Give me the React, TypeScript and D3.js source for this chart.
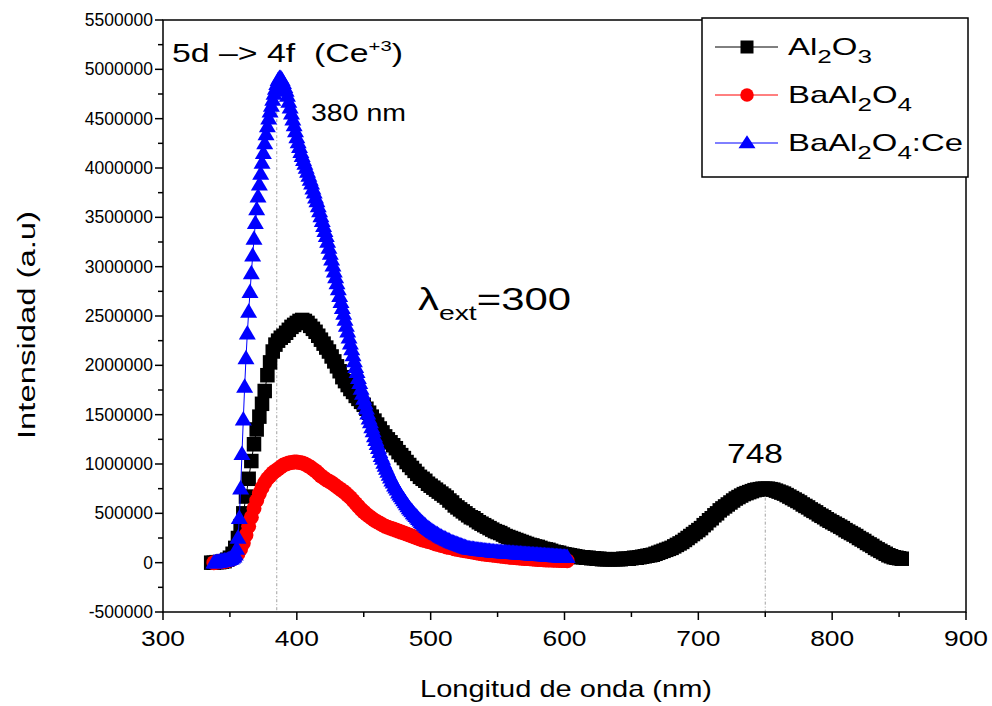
import React from "react";
import * as d3 from "d3";

// ---- data (intensity in units of 10^4 counts) ----
const UNIT = 10000;
const al2o3Start = 336, al2o3Step = 2;
const al2o3Values = [
  0, 0, 0.5, 0.5, 1, 1.5, 3, 5, 9, 15,
  25, 37, 50, 67, 85, 103, 120, 135, 148, 161,
  174, 190, 203, 214, 221, 225, 228, 230, 233, 236,
  239, 241, 243, 245, 246, 245, 243, 240, 237, 234,
  230, 226, 222, 218, 214, 209, 204, 199, 194, 188,
  184, 180, 176, 173, 169, 166, 163, 160, 156, 152,
  148, 144, 140, 136, 132, 128, 125, 122, 119, 116,
  112, 109, 106, 102, 99, 96, 93, 90, 87, 85,
  83, 80, 78, 76, 74, 72, 70, 68, 66, 63,
  61, 58, 56, 54, 52, 50, 48, 46, 45, 43,
  41, 39.5, 38, 36.5, 35, 33.5, 32, 31, 30, 28.5,
  27, 26, 25, 24, 23, 22, 21, 20, 19, 18,
  17.5, 16.5, 16, 15, 14, 13.5, 13, 12, 11, 10.5,
  10, 9, 8.5, 8, 7.5, 7, 6.5, 6, 5.5, 5.5,
  5, 5, 4.5, 4.5, 4, 4, 3.5, 3.5, 3.5, 3.5,
  3.5, 3.5, 3.5, 3.5, 4, 4, 4, 4.5, 5, 5,
  5.5, 6, 6.5, 7, 7.5, 8, 9, 10, 11, 12,
  13, 14, 15, 16.5, 18, 19.5, 21, 23, 25, 27,
  29, 31, 33, 35, 38, 40, 43, 45, 48, 50,
  53, 55, 57, 59, 61, 63, 65, 66.5, 68, 69.5,
  70.5, 71.5, 72.5, 73.5, 74, 74.5, 75, 75, 75, 74.5,
  74, 73, 72, 71, 70, 68.5, 67, 65.5, 64, 62.5,
  61, 59, 57.5, 56, 54, 52.5, 51, 49, 47.5, 46,
  44, 42.5, 41, 39.5, 38, 36.5, 35, 33, 31.5, 30,
  28.5, 27, 25, 23.5, 22, 20, 18.5, 17, 15, 13.5,
  12, 10.5, 9, 7.5, 6.5, 5.5, 5, 4.5, 4,
];

const baal2o4Start = 338, baal2o4Step = 2;
const baal2o4Values = [
  0, 0.5, 1, 1, 1.5, 2, 3, 4, 6, 9,
  14, 20, 28, 37, 46, 55, 63, 70, 76, 81,
  85, 88, 91, 93, 95, 97, 99, 100, 101, 101.5,
  102, 102, 101.5, 101, 100, 98.5, 97, 95, 93, 90.5,
  88, 86, 84, 82.5, 81, 79, 77, 75, 73, 71,
  68.5, 66, 63, 60, 57, 54, 51.5, 49, 47, 45,
  43, 41.5, 40, 38.5, 37, 36, 35, 34, 33, 32,
  31, 30, 29, 28, 27, 26, 25, 24, 23, 22.5,
  21.5, 21, 20, 19, 18.5, 17.5, 17, 16, 15.5, 15,
  14, 13.5, 13, 12.5, 12, 11.5, 11, 10.5, 10, 9.5,
  9, 8.7, 8.4, 8, 7.7, 7.4, 7, 6.7, 6.4, 6.1,
  5.8, 5.5, 5.2, 5, 4.7, 4.5, 4.3, 4.1, 3.9, 3.7,
  3.5, 3.3, 3.1, 3, 2.8, 2.7, 2.6, 2.5, 2.4, 2.3,
  2.2, 2.1, 2,
];

const ceStart = 338, ceStep = 1;
const ceValues = [
  0, 0, 0.5, 0.5, 1, 1, 1.5, 1.5, 2, 2,
  2.5, 3, 3.5, 4, 5, 6, 8, 14, 25, 45,
  75, 110, 145, 178, 207, 232, 254, 274, 293, 311,
  328, 344, 358, 371, 383, 394, 405, 415, 425, 434,
  442, 450, 457, 463, 469, 475, 480, 485, 489, 491,
  491, 489, 486, 482, 478, 473, 467, 461, 455, 449,
  443, 437, 431, 426, 421, 416, 412, 408, 404, 400,
  396, 392, 388, 384, 379, 375, 370, 366, 361, 356,
  351, 346, 341, 336, 331, 325, 319, 313, 307, 301,
  295, 289, 283, 277, 270, 264, 258, 252, 246, 240,
  234, 228, 222, 216, 210, 204, 198, 193, 187, 182,
  176, 171, 166, 161, 156, 151, 146, 142, 137, 133,
  128, 124, 120, 116, 112, 108, 105, 101, 98, 95,
  92, 89, 86, 83, 81, 78, 76, 74, 71, 69,
  67, 65, 63, 61, 59, 57, 55, 53.5, 52, 50,
  48.5, 47, 45.5, 44, 42.5, 41, 40, 38.5, 37.5, 36,
  35, 34, 33, 32, 31, 30, 29, 28.5, 27.5, 26.5,
  26, 25, 24.5, 24, 23, 22.5, 22, 21, 20.5, 20,
  19.5, 19, 18.5, 18, 17.5, 17, 16.5, 16, 15.5, 15,
  14.5, 14.2, 14, 13.8, 13.6, 13.4, 13.2, 13, 12.8, 12.6,
  12.5, 12.3, 12.2, 12, 11.8, 11.6, 11.5, 11.3, 11.2, 11,
  10.9, 10.8, 10.7, 10.6, 10.5, 10.4, 10.3, 10.2, 10.1, 10,
  9.9, 9.8, 9.7, 9.6, 9.5, 9.4, 9.3, 9.2, 9.1, 9,
  8.9, 8.8, 8.7, 8.6, 8.5, 8.4, 8.3, 8.2, 8.1, 8,
  7.9, 7.8, 7.7, 7.6, 7.5, 7.4, 7.3, 7.2, 7.1, 7,
  6.9, 6.8, 6.7, 6.6, 6.5, 6.4, 6.3, 6.2, 6.1, 6,
  5.9, 5.8, 5.7, 5.6, 5.5,
];

const xTickValues = [300, 400, 500, 600, 700, 800, 900];
const yTickValues = [-500000, 0, 500000, 1000000, 1500000, 2000000, 2500000, 3000000, 3500000, 4000000, 4500000, 5000000, 5500000];
const peakLines = [
  { nm: 385, value: 4900000 },
  { nm: 750, value: 740000 },
];

const FONT = "'Liberation Sans', Arial, Helvetica, sans-serif";

type Pt = [number, number];
const toPts = (start: number, step: number, vals: number[]): Pt[] =>
  vals.map((v, i) => [start + i * step, v * UNIT]);

const squarePath = (s: number) => `M${-s / 2},${-s / 2}h${s}v${s}h${-s}Z`;
const circlePath = (d: number) => d3.symbol().type(d3.symbolCircle).size(Math.PI * (d / 2) ** 2)() || "";
const trianglePath = (w: number, h: number) => `M0,${-h * 0.6}L${w / 2},${h * 0.4}L${-w / 2},${h * 0.4}Z`;

const series = [
  { key: "al", color: "#000000", marker: squarePath(14.5), pts: toPts(al2o3Start, al2o3Step, al2o3Values) },
  { key: "ba", color: "#ff0000", marker: circlePath(15), pts: toPts(baal2o4Start, baal2o4Step, baal2o4Values) },
  { key: "ce", color: "#0000ff", marker: trianglePath(17, 14.5), pts: toPts(ceStart, ceStep, ceValues) },
];
const legendMarkers = [squarePath(13), circlePath(13.5), trianglePath(17, 13)];

export default function App() {
  const W = 992, H = 706;
  const x = d3.scaleLinear().domain([300, 900]).range([163, 966]);
  const y = d3.scaleLinear().domain([-500000, 5500000]).range([612, 20]);
  const line = d3.line<Pt>().x((d) => x(d[0])).y((d) => y(d[1]));
  const [x0, x1] = x.range();
  const [y0, y1] = y.range();

  const xMinor = d3.range(350, 900, 100);
  const yMinor = d3.range(-250000, 5500000, 500000);

  return (
    <svg width={W} height={H} style={{ position: "absolute", left: 0, top: 0, background: "#fff" }} fontFamily={FONT}>
      <rect x={0} y={0} width={W} height={H} fill="#fff" />
      {/* reference lines */}
      {peakLines.map((p, i) => (
        <line key={i} x1={x(p.nm)} x2={x(p.nm)} y1={y(p.value)} y2={y0} stroke="#a0a0a0" strokeWidth={1} strokeDasharray="3,2,1,2" />
      ))}
      {/* series */}
      {series.map((s) => (
        <g key={s.key}>
          <path d={line(s.pts) || ""} fill="none" stroke={s.color} strokeWidth={1} />
          {s.pts.map((p, i) => (
            <path key={i} d={s.marker} transform={`translate(${x(p[0])},${y(p[1])})`} fill={s.color} />
          ))}
        </g>
      ))}
      {/* frame */}
      <rect x={x0} y={y1} width={x1 - x0} height={y0 - y1} fill="none" stroke="#000" strokeWidth={1.5} />
      {/* x ticks */}
      {xTickValues.map((v) => (
        <g key={v}>
          <line x1={x(v)} x2={x(v)} y1={y0} y2={y0 + 8} stroke="#000" strokeWidth={1.5} />
          <text x={x(v)} y={646} fontSize={22} textAnchor="middle" textLength={44} lengthAdjust="spacingAndGlyphs">{v}</text>
        </g>
      ))}
      {xMinor.map((v) => (
        <line key={v} x1={x(v)} x2={x(v)} y1={y0} y2={y0 + 5} stroke="#000" strokeWidth={1.5} />
      ))}
      {/* y ticks */}
      {yTickValues.map((v) => (
        <g key={v}>
          <line x1={x0 - 8} x2={x0} y1={y(v)} y2={y(v)} stroke="#000" strokeWidth={1.5} />
          <text x={x0 - 10} y={y(v) + 6} fontSize={17.5} textAnchor="end">{v}</text>
        </g>
      ))}
      {yMinor.map((v) => (
        <line key={v} x1={x0 - 5} x2={x0} y1={y(v)} y2={y(v)} stroke="#000" strokeWidth={1.5} />
      ))}
      {/* axis titles */}
      <text x={566} y={697} fontSize={24} textAnchor="middle" textLength={292} lengthAdjust="spacingAndGlyphs">Longitud de onda (nm)</text>
      <text transform={`translate(35,325) rotate(-90)`} fontSize={23} textAnchor="middle" textLength={228} lengthAdjust="spacingAndGlyphs">Intensidad (a.u)</text>
      {/* annotations */}
      <text x={172} y={62} fontSize={25} style={{ whiteSpace: "pre" }} textLength={231} lengthAdjust="spacingAndGlyphs">
        {"5d –> 4f  (Ce"}
        <tspan fontSize={15} dy={-11}>+3</tspan>
        <tspan dy={11}>)</tspan>
      </text>
      <text x={311} y={121} fontSize={24} textLength={95} lengthAdjust="spacingAndGlyphs">380 nm</text>
      <text x={418} y={310} fontSize={31} textLength={153} lengthAdjust="spacingAndGlyphs">
        λ<tspan fontSize={21} dy={10}>ext</tspan><tspan dy={-10}>=300</tspan>
      </text>
      <text x={727} y={463} fontSize={27} textLength={56} lengthAdjust="spacingAndGlyphs">748</text>
      {/* legend */}
      <g>
        <rect x={702} y={18} width={266} height={159} fill="#fff" stroke="#000" strokeWidth={1.5} />
        {series.map((s, i) => {
          const cy = 47 + i * 48;
          return (
            <g key={s.key}>
              <line x1={715} x2={778} y1={cy} y2={cy} stroke={s.color} strokeWidth={1} />
              <path d={legendMarkers[i]} transform={`translate(747,${cy})`} fill={s.color} />
            </g>
          );
        })}
        <text x={788} y={55} fontSize={24} textLength={84} lengthAdjust="spacingAndGlyphs">Al<tspan fontSize={19} dy={8}>2</tspan><tspan dy={-8}>O</tspan><tspan fontSize={19} dy={8}>3</tspan></text>
        <text x={788} y={103} fontSize={24} textLength={124} lengthAdjust="spacingAndGlyphs">BaAl<tspan fontSize={19} dy={8}>2</tspan><tspan dy={-8}>O</tspan><tspan fontSize={19} dy={8}>4</tspan></text>
        <text x={788} y={151} fontSize={24} textLength={175} lengthAdjust="spacingAndGlyphs">BaAl<tspan fontSize={19} dy={8}>2</tspan><tspan dy={-8}>O</tspan><tspan fontSize={19} dy={8}>4</tspan><tspan dy={-8}>:Ce</tspan></text>
      </g>
    </svg>
  );
}
